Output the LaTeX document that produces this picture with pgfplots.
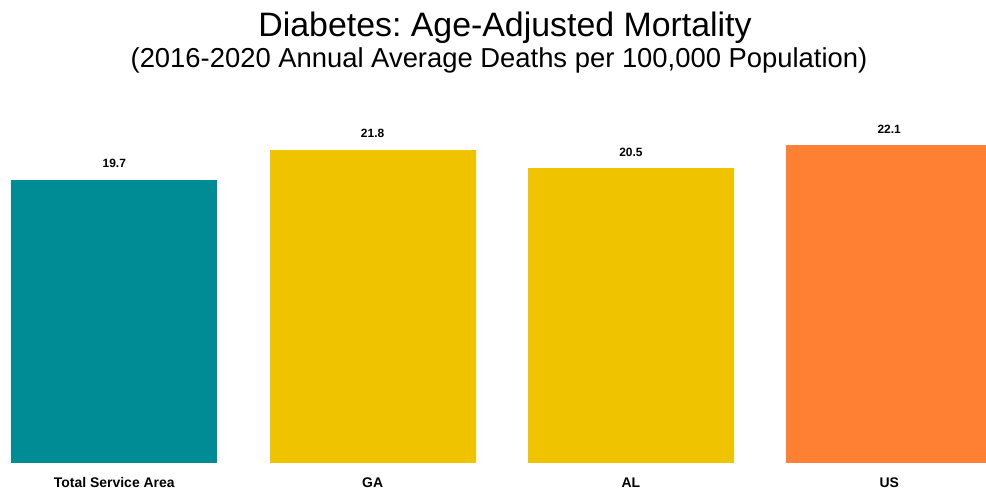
\documentclass[border=0pt]{standalone}
\usepackage{pgfplots}
\pgfplotsset{compat=1.18}
\usepackage{fontspec}
\setmainfont{Liberation Sans}
\definecolor{cteal}{HTML}{008C95}
\definecolor{cyellow}{HTML}{EFC300}
\definecolor{corange}{HTML}{FF8033}
\begin{document}
\frenchspacing
\begin{tikzpicture}[x=1bp,y=1bp]
\useasboundingbox[fill=white] (0,0) rectangle (986,493);
\node[anchor=base,font=\fontsize{34}{38}\selectfont] at (505,456) {Diabetes: Age-Adjusted Mortality};
\node[anchor=base,font=\fontsize{27.5}{31}\selectfont] at (499,425) {(2016-2020 Annual Average Deaths per 100,000 Population)};
\begin{axis}[
  at={(11bp,30bp)}, anchor=south west,
  scale only axis,
  width=981.5bp, height=359.3bp,
  xmin=-0.4, xmax=3.4, ymin=0, ymax=25,
  ybar, bar width=206bp, bar shift=0pt,
  hide y axis,
  axis x line*=bottom,
  x axis line style={draw=none},
  major tick length=0pt,
  xtick={0,1,2,3},
  xticklabels={Total Service Area,GA,AL,US},
  xticklabel style={anchor=base, yshift=-25bp, font=\bfseries\fontsize{14}{16}\selectfont},
  nodes near coords={\pgfmathprintnumber[fixed,fixed zerofill,precision=1,assume math mode=true]{\pgfplotspointmeta}},
  every node near coord/.append style={anchor=base, yshift=12bp, inner sep=0pt, font=\bfseries\fontsize{12}{14}\selectfont},
  clip=false,
]
\addplot[fill=cteal, draw=none] coordinates {(0,19.7)};
\addplot[fill=cyellow, draw=none] coordinates {(1,21.8)};
\addplot[fill=cyellow, draw=none] coordinates {(2,20.5)};
\addplot[fill=corange, draw=none] coordinates {(3,22.1)};
\end{axis}
\end{tikzpicture}
\end{document}
